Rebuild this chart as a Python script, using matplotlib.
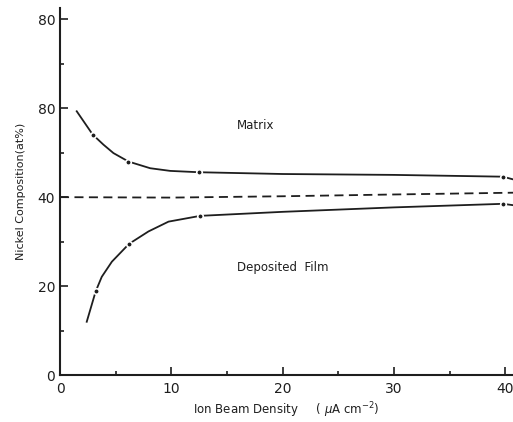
import numpy as np
import matplotlib.pyplot as plt
from matplotlib.ticker import MultipleLocator

# Nickel content vs ion beam density
matrix_x = [1.5, 2.94, 3.9, 4.8, 6.15, 8.1, 9.9, 12.46, 20, 30, 39.8, 40.7]
matrix_y = [59.3, 54.05, 51.8, 49.9, 48.0, 46.5, 45.9, 45.6, 45.2, 45.0, 44.6, 44.0]
film_x = [2.4, 3.2, 3.75, 4.66, 6.2, 7.95, 9.75, 12.6, 20, 30, 39.8, 40.7]
film_y = [12.0, 18.8, 22.1, 25.5, 29.5, 32.3, 34.5, 35.8, 36.7, 37.7, 38.5, 38.2]
bulk_x = [0, 10, 20, 30, 40.7]
bulk_y = [40.0, 39.9, 40.2, 40.6, 41.0]

# measured points on each curve
matrix_pts_x = [2.94, 6.15, 12.46, 39.8]
matrix_pts_y = [54.05, 48.0, 45.6, 44.6]
film_pts_x = [3.2, 6.2, 12.6, 39.8]
film_pts_y = [18.8, 29.5, 35.8, 38.5]

yticks = [0, 20, 40, 60, 80]
ytick_labels = ['0', '20', '40', '80', '80']
xticks = [0, 10, 20, 30, 40]

ink = '#1e1e1e'

fig = plt.figure(figsize=(5.13, 4.22), dpi=100)
ax = fig.add_axes([0.117, 0.111, 0.883, 0.870])

ax.plot(matrix_x, matrix_y, color=ink, lw=1.3)
ax.plot(film_x, film_y, color=ink, lw=1.3)
ax.plot(bulk_x, bulk_y, color=ink, lw=1.3, dashes=(5, 3))
# white rim around dots leaves a small break in the curve
ax.plot(matrix_pts_x, matrix_pts_y, 'o', color=ink, ms=4, mec='white', mew=1.2)
ax.plot(film_pts_x, film_pts_y, 'o', color=ink, ms=4, mec='white', mew=1.2)

ax.set_xlim(0, 40.7)
ax.set_ylim(0, 82.5)
ax.set_xticks(xticks)
ax.set_yticks(yticks)
ax.set_yticklabels(ytick_labels)
ax.xaxis.set_minor_locator(MultipleLocator(5))
ax.yaxis.set_minor_locator(MultipleLocator(10))
ax.tick_params(which='both', direction='in', color=ink, labelcolor=ink, width=1.2, labelsize=10)
ax.tick_params(which='major', length=6)
ax.tick_params(which='minor', length=3)
ax.tick_params(axis='x', pad=5)

for side in ['top', 'right']:
    ax.spines[side].set_visible(False)
for side in ['left', 'bottom']:
    ax.spines[side].set_linewidth(1.5)
    ax.spines[side].set_color(ink)

ax.text(15.9, 56.0, 'Matrix', fontsize=8.5, color=ink, va='center')
ax.text(15.9, 24.1, 'Deposited  Film', fontsize=8.5, color=ink, va='center')

ax.set_ylabel('Nickel Composition(at%)', fontsize=8, color=ink, labelpad=8)
ax.set_xlabel('Ion Beam Density     ( $\\mu$A cm$^{-2}$)', fontsize=8.5, color=ink, labelpad=3)

fig.savefig('out.png', dpi=100)
